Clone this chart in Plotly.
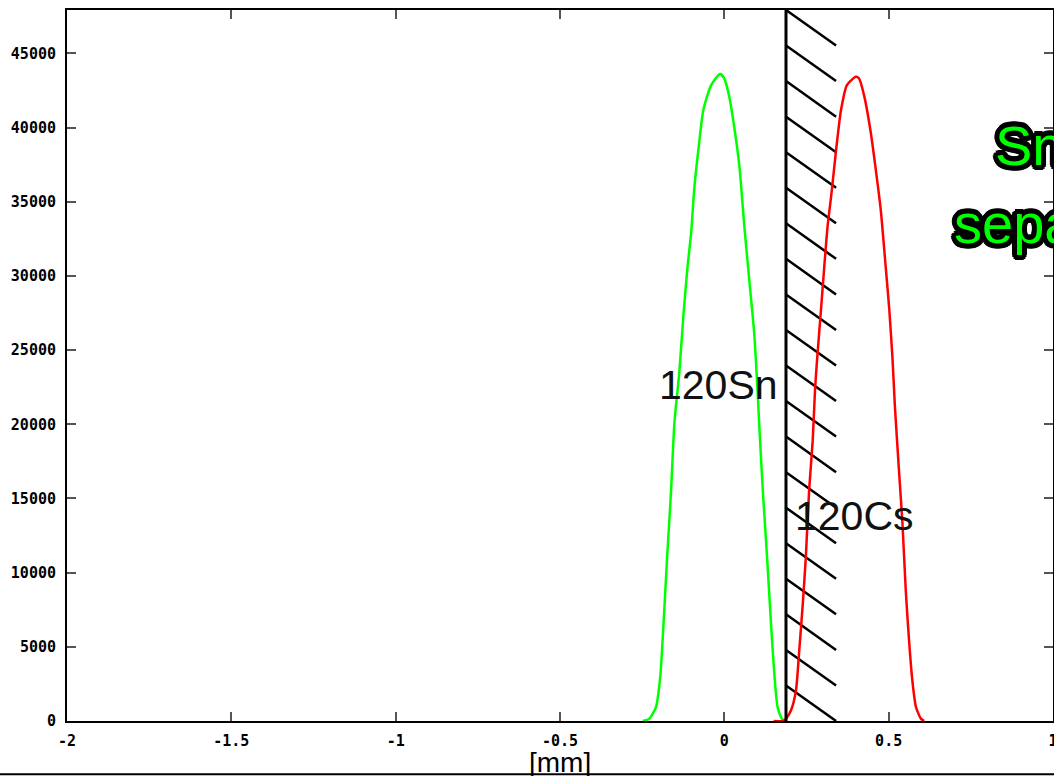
import math
import plotly.graph_objects as go

# ---- data ----
sn_x = [-0.248, -0.228, -0.208, -0.195, -0.185, -0.174, -0.162, -0.152, -0.137, -0.124,
        -0.112, -0.101, -0.091, -0.078, -0.064, -0.040, -0.013, 0.0, 0.015, 0.033,
        0.046, 0.061, 0.076, 0.091, 0.101, 0.106, 0.117, 0.130, 0.142, 0.152,
        0.162, 0.175, 0.182]
sn_y = [0, 160, 940, 2970, 6570, 11060, 15560, 20070, 23500, 27500,
        30600, 32900, 36000, 38700, 41170, 42860, 43600, 43300, 42080, 39600,
        37360, 33300, 29700, 26100, 22300, 20050, 15560, 11060, 6570, 3200,
        944, 160, 0]

cs_x = [0.150, 0.180, 0.188, 0.203, 0.218, 0.228, 0.238, 0.248, 0.258, 0.269,
        0.276, 0.282, 0.294, 0.304, 0.314, 0.326, 0.340, 0.355, 0.373, 0.400,
        0.410, 0.426, 0.446, 0.461, 0.476, 0.491, 0.502, 0.512, 0.519, 0.532,
        0.542, 0.552, 0.562, 0.572, 0.583, 0.598, 0.608]
cs_y = [0, 0, 160, 720, 2070, 4770, 7690, 11060, 15560, 18930,
        22350, 24300, 27700, 30600, 33300, 35560, 38480, 41180, 42860, 43420,
        43300, 42080, 39600, 37130, 34440, 30600, 27700, 24300, 21200, 16680,
        13310, 8810, 5440, 2740, 944, 160, 0]

x_ticks = [-2, -1.5, -1, -0.5, 0, 0.5, 1]
x_tick_labels = ["-2", "-1.5", "-1", "-0.5", "0", "0.5", "1"]
y_ticks = [0, 5000, 10000, 15000, 20000, 25000, 30000, 35000, 40000, 45000]
y_tick_labels = [str(v) for v in y_ticks]

x_range = [-2, 1]
y_range = [0, 47920]

barrier_x = 0.1876
hatch_end_x = 0.340
n_hatch = 20

# ---- figure ----
fig = go.Figure()

# hatch lines
hx, hy = [], []
step = y_range[1] / n_hatch
for k in range(n_hatch):
    hx += [barrier_x, hatch_end_x, None]
    hy += [y_range[1] - k * step, y_range[1] - (k + 1) * step, None]
fig.add_trace(go.Scatter(x=hx, y=hy, mode="lines",
                         line=dict(color="black", width=2.5),
                         hoverinfo="skip", showlegend=False))

fig.add_trace(go.Scatter(x=sn_x, y=sn_y, mode="lines",
                         line=dict(color="#00ff00", width=2.5, shape="spline", smoothing=0.6),
                         showlegend=False))
fig.add_trace(go.Scatter(x=cs_x, y=cs_y, mode="lines",
                         line=dict(color="#ff0000", width=2.5, shape="spline", smoothing=0.6),
                         showlegend=False))

# barrier line
fig.add_trace(go.Scatter(x=[barrier_x, barrier_x], y=[0, y_range[1]], mode="lines",
                         line=dict(color="black", width=3), showlegend=False))

tickfont = dict(family="DejaVu Sans Mono", size=15, color="black", weight="bold")
axis_common = dict(showline=True, linecolor="black", linewidth=2, mirror="ticks",
                   ticks="inside", ticklen=9, tickwidth=1.5, tickcolor="#555555",
                   showgrid=False, zeroline=False, tickfont=tickfont,
                   ticklabeloverflow="allow", automargin=False)

fig.update_xaxes(range=x_range, tickvals=x_ticks, ticktext=x_tick_labels,
                 ticklabelstandoff=5, **axis_common)
fig.update_yaxes(range=y_range, tickvals=y_ticks, ticktext=y_tick_labels,
                 ticklabelstandoff=6, **axis_common)

label_font = dict(family="Liberation Sans", size=41, color="#111111")
fig.add_annotation(x=-0.018, y=22650, xref="x", yref="y", text="120Sn",
                   showarrow=False, font=label_font, xanchor="center", yanchor="middle")
fig.add_annotation(x=0.397, y=13850, xref="x", yref="y", text="120Cs",
                   showarrow=False, font=label_font, xanchor="center", yanchor="middle")

# x axis title
fig.add_annotation(x=0.5, y=-0.058, xref="paper", yref="paper", text="[mm]",
                   showarrow=False, font=dict(family="Liberation Sans", size=28, color="black"),
                   xanchor="center", yanchor="middle")

# outlined green callout (cut off at the right edge)
r = 5
offs = []
for i in range(16):
    a = 2 * math.pi * i / 16
    offs.append(f"{r*math.cos(a):.1f}px {r*math.sin(a):.1f}px 0 #000")
shadow = ", ".join(offs)
callout_font = dict(family="Liberation Sans", size=56, color="#00ff00", shadow=shadow)
fig.add_annotation(x=(993 - 67) / 986, y=(720.7 - 145) / 710.7, xref="paper", yref="paper",
                   text="Sn/Cs", showarrow=False, font=callout_font,
                   xanchor="left", yanchor="middle")
fig.add_annotation(x=(952 - 67) / 986, y=(720.7 - 223) / 710.7, xref="paper", yref="paper",
                   text="separation", showarrow=False, font=callout_font,
                   xanchor="left", yanchor="middle")

# slide frame line at bottom
fig.add_shape(type="line", xref="paper", yref="paper",
              x0=-0.2, x1=1.2, y0=(720.7 - 774) / 710.7, y1=(720.7 - 774) / 710.7,
              line=dict(color="black", width=2))

fig.update_layout(width=1054, height=776,
                  margin=dict(l=67, r=1, t=10, b=55, pad=0, autoexpand=False),
                  plot_bgcolor="white", paper_bgcolor="white",
                  showlegend=False)

fig.write_html("out.html")
